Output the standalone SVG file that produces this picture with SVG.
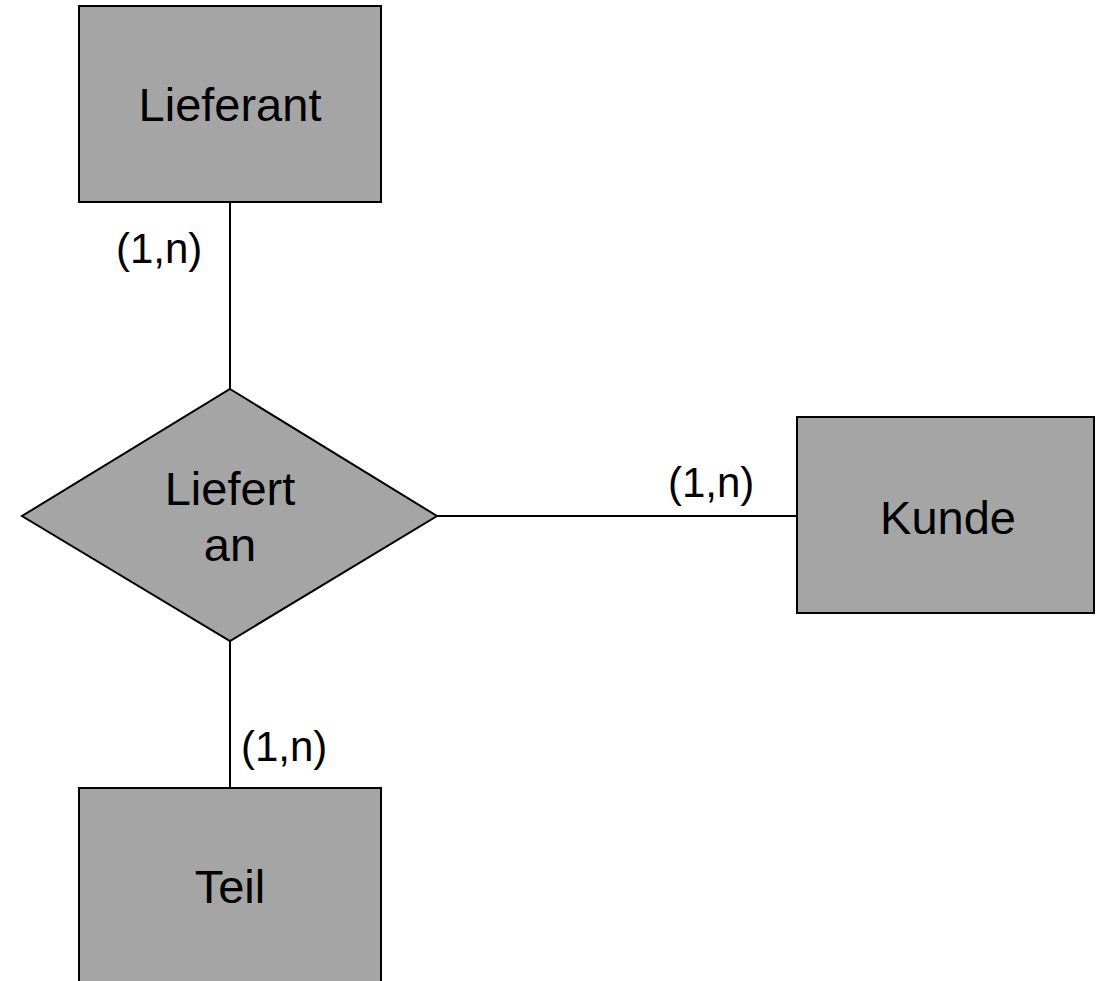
<svg xmlns="http://www.w3.org/2000/svg" width="1096" height="981" viewBox="0 0 1096 981">
  <style>
    .shape { fill: #a5a5a5; stroke: #000000; stroke-width: 2; }
    .edge { fill: none; stroke: #000000; stroke-width: 2; }
    .name { font-family: "Liberation Sans", Arial, sans-serif; font-size: 47px; fill: #000000; text-anchor: middle; }
    .card { font-family: "Liberation Sans", Arial, sans-serif; font-size: 42px; fill: #000000; }
  </style>
  <rect width="1096" height="981" fill="#ffffff"/>

  <!-- relationship lines with cardinalities -->
  <g id="connectors">
    <line class="edge" x1="230" y1="202" x2="230" y2="389"/>
    <line class="edge" x1="437" y1="516" x2="797" y2="516"/>
    <line class="edge" x1="230" y1="641" x2="230" y2="788"/>
    <text class="card" x="116" y="263">(1,n)</text>
    <text class="card" x="668" y="497">(1,n)</text>
    <text class="card" x="241" y="761">(1,n)</text>
  </g>

  <g id="lieferant">
    <rect class="shape" x="79" y="6" width="302" height="196"/>
    <text class="name" x="230" y="121">Lieferant</text>
  </g>

  <g id="liefert-an">
    <polygon class="shape" points="230,389 437,516 230,641 22,516"/>
    <text class="name" x="230" y="505">Liefert</text>
    <text class="name" x="230" y="561">an</text>
  </g>

  <g id="kunde">
    <rect class="shape" x="797" y="417" width="297" height="196"/>
    <text class="name" x="948" y="534">Kunde</text>
  </g>

  <g id="teil">
    <rect class="shape" x="79" y="788" width="302" height="200"/>
    <text class="name" x="230" y="903">Teil</text>
  </g>
</svg>
